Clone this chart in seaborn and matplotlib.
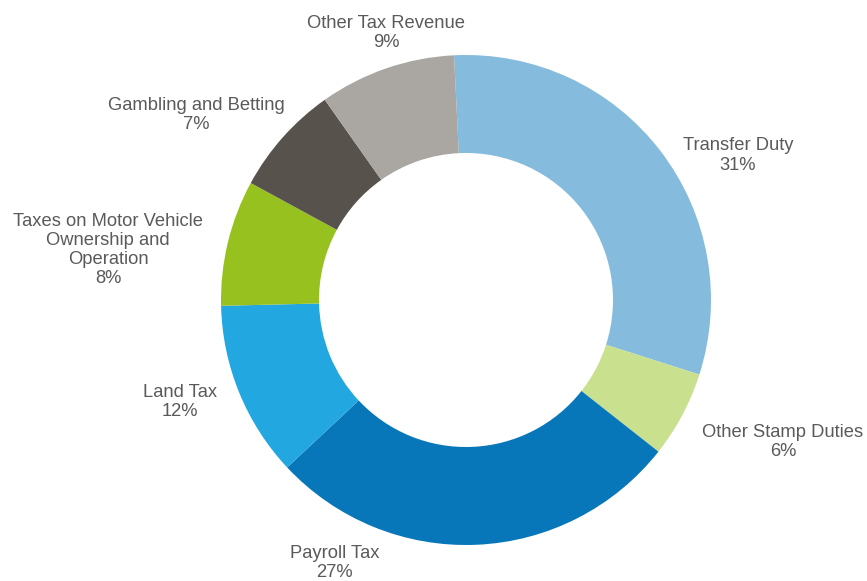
"""Donut chart of tax revenue shares by source."""
import matplotlib
matplotlib.use('Agg')
import matplotlib.pyplot as plt
import seaborn as sns

# Slice data, clockwise from the top
categories = ['Transfer Duty', 'Other Stamp Duties', 'Payroll Tax', 'Land Tax',
              'Taxes on Motor Vehicle\nOwnership and\nOperation',
              'Gambling and Betting', 'Other Tax Revenue']
shares = [30.7, 5.7, 27.4, 11.6, 8.3, 7.3, 9.0]

colors = ['#85BBDD', '#C9E08F', '#0877B9', '#23A7E0', '#96C11F', '#58524D', '#AAA6A2']

# Label centres, in units of the outer radius (layout only)
label_xy = [(1.11, 0.59), (1.294, -0.58), (-0.535, -1.073), (-1.167, -0.416),
            (-1.461, 0.204), (-1.102, 0.755), (-0.327, 1.09)]

sns.set_theme(style='white')
plt.rcParams['font.family'] = ['Liberation Sans', 'DejaVu Sans']

fig = plt.figure(figsize=(8.67, 5.81), dpi=100)
ax = fig.add_axes([0, 0, 1, 1])

total = sum(shares)
ax.pie(shares, colors=colors, startangle=92.8, counterclock=False,
       radius=1, wedgeprops={'width': 0.4, 'linewidth': 0})

for name, value, (x, y) in zip(categories, shares, label_xy):
    text = f"{name}\n{round(100 * value / total)}%"
    ax.text(x, y, text, ha='center', va='center', fontsize=13.2,
            color='#5A5A5A', linespacing=1.17)

# Place the ring: centre at (466, 300) px, outer radius 245 px
px = 245
ax.set_xlim(-466 / px, (867 - 466) / px)
ax.set_ylim(-(581 - 300) / px, 300 / px)
ax.set_aspect('equal')
ax.axis('off')

fig.savefig('out.png', dpi=100)
